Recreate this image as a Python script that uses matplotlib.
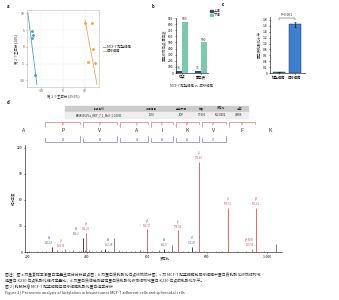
import matplotlib
matplotlib.use('Agg')
import matplotlib.pyplot as plt
from matplotlib.patches import Rectangle
from matplotlib.lines import Line2D

plt.rcParams['font.family'] = ['Noto Sans CJK SC', 'DejaVu Sans']
plt.rcParams['axes.unicode_minus'] = False
plt.rcParams['axes.linewidth'] = 0.4
plt.rcParams['xtick.major.width'] = 0.4
plt.rcParams['ytick.major.width'] = 0.4
plt.rcParams['xtick.major.size'] = 1.2
plt.rcParams['ytick.major.size'] = 1.2
plt.rcParams['xtick.major.pad'] = 0.8
plt.rcParams['ytick.major.pad'] = 0.8

# ---------------- data ----------------
# panel a (PCA)
pca_adh_x = [-14.4, -13.9, -14.4, -13.0]
pca_adh_y = [4.8, 3.6, 2.7, -8.4]
pca_sph_x = [10.2, 13.5, 14.0, 11.6, 14.9]
pca_sph_y = [7.2, 7.2, -0.6, -4.4, -4.8]
pca_adh_line_x = [-16.3, -12.1]
pca_adh_line_y = [10.1, -11.3]
pca_sph_line_x = [10.2, 15.8]
pca_sph_line_y = [8.0, -11.3]
pca_ticks = [-10, 0, 10]
pca_yticks = [-10, -5, 0, 5, 10]

# panel b
b_categories = ['位点', '蛋白质']
b_up = [33, 31]
b_down = [835, 500]
b_yticks = [0, 100, 200, 300, 400, 500, 600, 700, 800, 900]

# panel c
c_groups = ['贴壁细胞', '成球细胞']
c_values = [0.03, 1.65]
c_err = [0.01, 0.08]
c_yticks = [0, 0.2, 0.4, 0.6, 0.8, 1.0, 1.2, 1.4, 1.6, 1.8]

# panel d table
tbl_header = ['肽段名称', '扫描编号', '鉴定来源', '分数', '质荷比', '电荷']
tbl_row = ['AAXK936.PLa_MCF_7_1_Mx0~1,1,0001', '2535', 'TOP', '97.000', '502.8002', 'GMHS']

# panel d sequence
seq = ['A', 'P', 'V', 'A', 'I', 'K', 'V', 'F', 'K']
y_ion_names = ['y8', 'y7', 'y6', 'y5', 'y4', 'y3', 'y2']
b_ion_names = ['b2', 'b3', 'b4', 'b5', 'b6', 'b7']

# panel d spectrum: labelled ions
ion_names = ['b3', 'y2', 'b4', 'y3', 'b5', 'y4', 'b6', 'y5', 'b7', 'y6', 'y7', 'y8-NH3', 'y8']
ion_mz = [283, 327, 387, 397, 460, 600, 657, 703, 750, 773, 870, 950, 963]
ion_label_mz = ['326.18', '294.18', '396.2', '391.25', '492.28', '593.37', '652.3',
                '708.45', '751.47', '771.49', '870.56', '950.55', '967.61']
ion_int = [6, 3, 16, 22, 4, 26, 4, 25, 6, 104, 51, 4, 51]
ion_type = ['b', 'y', 'b', 'y', 'b', 'y', 'b', 'y', 'b', 'y', 'y', 'y', 'y']
# unlabelled peaks
noise_mz = [205, 232, 250, 262, 300, 318, 340, 352, 372, 380, 392, 405, 415, 430, 445, 470,
            490, 505, 515, 530, 545, 560, 575, 585, 615, 640, 670, 683, 690, 720, 735, 760,
            790, 830, 850, 900, 930, 990, 1030]
noise_int = [1, 1.5, 1, 1, 2, 1.5, 1, 2, 1.5, 1, 2.5, 2, 1.5, 1, 2, 1.5,
             16, 2, 1.5, 1, 1.5, 1, 2, 1.5, 1, 2, 1.5, 8, 1, 1, 1.5, 1,
             1, 1.5, 1, 1, 1.5, 1, 9]

# ---------------- layout ----------------
W, H = 339, 300
fig = plt.figure(figsize=(3.39, 3.0), dpi=100)


def ax_px(l, t, r, b):
    return fig.add_axes([l / W, 1 - b / H, (r - l) / W, (b - t) / H])


def ftext(x, y, s, **kw):
    kw.setdefault('va', 'center')
    fig.text(x / W, 1 - y / H, s, **kw)


FS = 2.4
BLUE = '#5b9bd5'
ORANGE = '#f0a84a'
TXT = '#333333'

# ---------------- panel a ----------------
ftext(7, 6, 'a', fontsize=3.0, fontweight='bold')
axa = ax_px(27, 10, 99, 87)
axa.plot(pca_adh_line_x, pca_adh_line_y, color=BLUE, lw=0.6)
axa.plot(pca_sph_line_x, pca_sph_line_y, color=ORANGE, lw=0.6)
axa.scatter(pca_adh_x, pca_adh_y, s=1.2, color=BLUE, zorder=3)
axa.scatter(pca_sph_x, pca_sph_y, s=1.2, color=ORANGE, zorder=3)
axa.set_xlim(-16.7, 16.7)
axa.set_ylim(-12, 11)
axa.set_xticks(pca_ticks)
axa.set_yticks(pca_yticks)
axa.tick_params(labelsize=FS, colors='#555555', length=1)
axa.grid(True, color='#e6e6e6', lw=0.3, ls='--')
for sp in axa.spines.values():
    sp.set_color('#bbbbbb')
axa.set_xlabel('第 1 个主成分 (39.6%)', fontsize=FS, labelpad=1, color=TXT)
axa.set_ylabel('第 2 个主成分 (14%)', fontsize=FS, labelpad=0.5, color=TXT)
# legend
fig.add_artist(Line2D([103 / W, 106 / W], [1 - 47 / H, 1 - 47 / H], color=BLUE, lw=0.6))
fig.add_artist(Line2D([103 / W, 106 / W], [1 - 51 / H, 1 - 51 / H], color=ORANGE, lw=0.6))
ftext(107, 47, 'MCF-7 贴壁细胞', fontsize=FS, color=TXT)
ftext(107, 51, '成球细胞', fontsize=FS, color=TXT)

# ---------------- panel b ----------------
ftext(152, 6, 'b', fontsize=3.0, fontweight='bold')
axb = ax_px(176, 18, 208, 73)
NAVY = '#2f4b66'
TEAL = '#7cc8b0'
xs = list(range(len(b_categories)))
bw = 0.3
axb.bar([x - bw / 2 for x in xs], b_up, width=bw, color=NAVY)
axb.bar([x + bw / 2 for x in xs], b_down, width=bw, color=TEAL)
for x, u, d in zip(xs, b_up, b_down):
    axb.text(x - bw / 2, u + 10, str(u), ha='center', va='bottom', fontsize=FS, color=TXT)
    axb.text(x + bw / 2, d + 10, str(d), ha='center', va='bottom', fontsize=FS, color=TXT)
axb.set_xlim(-0.32, 1.37)
axb.set_ylim(0, 900)
axb.set_yticks(b_yticks)
axb.set_xticks(xs)
axb.set_xticklabels(b_categories)
axb.tick_params(labelsize=FS, length=1)
axb.spines['top'].set_visible(False)
axb.spines['right'].set_visible(False)
axb.set_ylabel('差异修饰位点/蛋白数', fontsize=FS, labelpad=1, color=TXT)
axb.set_xlabel('MCF-7 贴壁细胞 vs. 成球细胞', fontsize=FS, labelpad=3, color=TXT)
fig.add_artist(Rectangle((210 / W, 1 - 12 / H), 3 / W, 2.5 / H, color=NAVY))
fig.add_artist(Rectangle((210 / W, 1 - 16 / H), 3 / W, 2.5 / H, color=TEAL))
ftext(214, 10.8, '上调', fontsize=FS, color=TXT)
ftext(214, 14.8, '下调', fontsize=FS, color=TXT)

# ---------------- panel c ----------------
ftext(222, 5, 'c', fontsize=3.0, fontweight='bold')
axc = ax_px(270, 17, 305, 73)
CBLUE = '#3f7fcf'
axc.bar([0, 1], c_values, width=0.75, color=CBLUE, edgecolor='#222222', lw=0.3,
        yerr=c_err, error_kw=dict(elinewidth=0.4, capsize=1, capthick=0.4))
axc.set_xlim(-0.56, 1.62)
axc.set_ylim(0, 1.9)
axc.set_yticks(c_yticks)
axc.set_yticklabels(['0'] + ['%.1f' % v for v in c_yticks[1:]])
axc.set_xticks([0, 1])
axc.set_xticklabels(c_groups)
axc.tick_params(labelsize=FS, length=1)
axc.spines['top'].set_visible(False)
axc.spines['right'].set_visible(False)
axc.set_ylabel('蛋白质乳酸化水平', fontsize=FS, labelpad=1, color=TXT)
axc.plot([0, 0, 1, 1], [1.80, 1.88, 1.88, 1.80], color='#222222', lw=0.3, clip_on=False)
axc.text(0.5, 1.91, 'P=0.001', ha='center', va='bottom', fontsize=FS, style='italic', color=TXT)

# ---------------- panel d: table ----------------
ftext(7, 103, 'd', fontsize=3.0, fontweight='bold')
col_bounds = [65, 133, 170, 192, 212, 230, 248]
fig.add_artist(Rectangle((65 / W, 1 - 112 / H), 183 / W, 6 / H, color='#cccccc'))
fig.add_artist(Rectangle((65 / W, 1 - 118 / H), 183 / W, 6 / H, color='#eeeeee'))
for i, (h, v) in enumerate(zip(tbl_header, tbl_row)):
    cx = (col_bounds[i] + col_bounds[i + 1]) / 2
    ftext(cx, 109, h, fontsize=2.0, ha='center', color='#222222')
    ftext(cx, 115.2, v, fontsize=1.9, ha='center', color='#222222')

# ---------------- panel d: sequence ----------------
res_px = [24, 63, 100, 137, 162, 187, 213, 242, 270]
RED = '#d9534f'
PURP = '#5a5fb0'
for px, r in zip(res_px, seq):
    ftext(px, 130, r, fontsize=3.8, ha='center', color='#333333')
for i in range(1, len(seq) - 1):
    left = (res_px[i - 1] + res_px[i]) / 2 + 1.5
    right = (res_px[i] + res_px[i + 1]) / 2 - 1.5
    xl, xr = left / W, right / W
    fig.add_artist(Line2D([xl, xl, xr, xr], [1 - 127 / H, 1 - 122 / H, 1 - 122 / H, 1 - 124 / H],
                          color=RED, lw=0.4))
    ftext(res_px[i], 124.5, y_ion_names[i - 1], fontsize=1.9, ha='center', color=RED)
    if i <= len(b_ion_names):
        fig.add_artist(Line2D([xl, xl, xr, xr], [1 - 138 / H, 1 - 142 / H, 1 - 142 / H, 1 - 136 / H],
                              color=PURP, lw=0.4))
        ftext(res_px[i], 139.5, b_ion_names[i - 1], fontsize=1.9, ha='center', color=PURP)

# ---------------- panel d: spectrum ----------------
axd = ax_px(25, 145, 282, 252)
axd.vlines(noise_mz, 0, noise_int, color='#222222', lw=0.4)
label_dx = [-10, -14, -22, 0, 12, 0, 0, 0, 0, 0, 0, -8, 0]
for n, mz, lab, it, t, dx in zip(ion_names, ion_mz, ion_label_mz, ion_int, ion_type, label_dx):
    col = RED if t == 'y' else PURP
    axd.vlines(mz, 0, it, color=RED if t == 'y' else '#222222', lw=0.6)
    axd.text(mz + dx, it + 2, n + '\n' + lab, ha='center', va='bottom', fontsize=1.9,
             color=col, linespacing=1.3)
axd.set_xlim(193, 1050)
axd.set_ylim(0, 123)
axd.set_xticks([200, 400, 600, 800, 1000])
axd.set_xticklabels(['200', '400', '600', '800', '1 000'])
axd.set_yticks([0, 30, 60, 90, 120])
axd.tick_params(labelsize=FS, length=1)
axd.spines['top'].set_visible(False)
axd.spines['right'].set_visible(False)
axd.set_ylabel('相对丰度', fontsize=FS, labelpad=1, color=TXT)
ftext(165, 258, '质荷比', fontsize=FS, ha='center', color=TXT)

# ---------------- caption ----------------
cap1 = ('图注：图 a 为重复样本间蛋白定量主成分分析散点图；b 为蛋白质乳酸化位点修饰统计图；'
        'c 为 MCF-7 贴壁细胞和成球细胞中蛋白质乳酸化修饰结构域')
cap2 = '程蛋白 K230 位点乳酸化相对定量比；d 为蛋白质谱检测鉴定蛋白质乳酸化修饰结构域蛋白 K230 位点的乳酸化水平。'
cap3 = '图 2 | 乳腺肿瘤 MCF-7 贴壁细胞与成球细胞乳酸化蛋白组学分析'
cap4 = 'Figure 2 | Proteomic analysis of lactylation in breast tumor MCF-7 adherent cells and spheroidal cells'
ftext(5, 275, cap1, fontsize=2.75, color=TXT)
ftext(5, 281, cap2, fontsize=2.75, color=TXT)
ftext(5, 287, cap3, fontsize=2.75, color=TXT)
ftext(5, 293, cap4, fontsize=2.75, color=TXT)

fig.savefig('out.png', dpi=100)
